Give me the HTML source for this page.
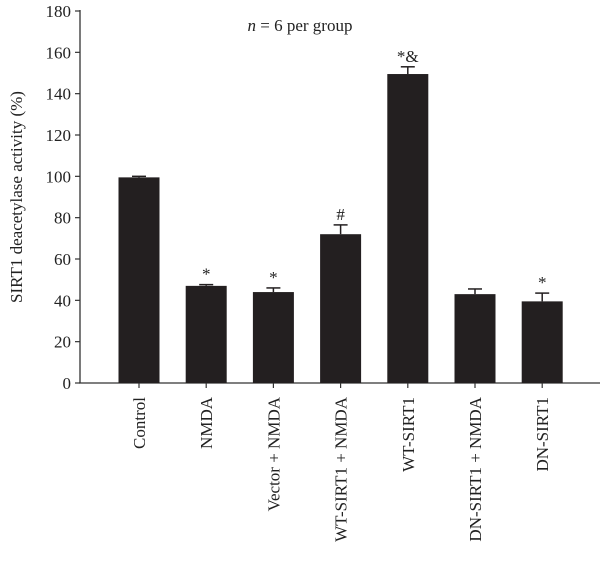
<!DOCTYPE html>
<html><head><meta charset="utf-8"><style>
html,body{margin:0;padding:0;background:#fff;}
svg{display:block;font-family:"Liberation Serif",serif;}
</style></head><body>
<svg id="chart" width="600" height="575" viewBox="0 0 600 575" xmlns="http://www.w3.org/2000/svg"></svg>
<script>
const categories=["Control","NMDA","Vector + NMDA","WT-SIRT1 + NMDA","WT-SIRT1","DN-SIRT1 + NMDA","DN-SIRT1"];
const values=[99.5,47,44,72,149.5,43,39.5];
const errors=[0.5,0.6,2,4.5,3.5,2.5,4];
const marks=["","*","*","#","*&","","*"];
const yTicks=[0,20,40,60,80,100,120,140,160,180];

const NS="http://www.w3.org/2000/svg";
const svg=document.getElementById('chart');
const x0=80,y0=383,yTop=11,yMax=180;
const y=v=>y0-(v/yMax)*(y0-yTop);
const xc=i=>139+i*67.2;
const bw=41;
function mk(t,a){const e=document.createElementNS(NS,t);for(const k in a)e.setAttribute(k,a[k]);svg.appendChild(e);return e;}

let e=mk('line',{x1:x0,y1:yTop-1,x2:x0,y2:y0,stroke:'#333','stroke-width':1.3});


e=mk('line',{x1:x0-1,y1:y0,x2:600,y2:y0,stroke:'#333','stroke-width':1.3});



yTicks.forEach(t=>{
  const l=mk('line',{x1:x0-5,y1:y(t),x2:x0,y2:y(t),stroke:'#333','stroke-width':1.2});
  
  
  const tx=mk('text',{x:x0-9,y:y(t)+6,'text-anchor':'end','font-size':17,fill:'#222'});
  tx.textContent=t;
  
  
});

const yt=mk('text',{x:0,y:0,transform:'translate(22,197) rotate(-90)','text-anchor':'middle','font-size':17,fill:'#222'});
yt.textContent='SIRT1 deacetylase activity (%)';



const n=mk('text',{x:300,y:31,'text-anchor':'middle','font-size':17,fill:'#222'});
n.innerHTML='<tspan font-style="italic">n</tspan> = 6 per group';



categories.forEach((c,i)=>{
  const cx=xc(i),v=values[i],er=errors[i];
  const b=mk('rect',{x:cx-bw/2,y:y(v),width:bw,height:y0-y(v),fill:'#231f20'});
  
  
  const g1=mk('line',{x1:cx,y1:y(v),x2:cx,y2:y(v+er),stroke:'#231f20','stroke-width':1.5});
  
  
  const g2=mk('line',{x1:cx-7,y1:y(v+er),x2:cx+7,y2:y(v+er),stroke:'#231f20','stroke-width':1.5});
  
  
  if(marks[i]){
    const m=mk('text',{x:cx,y:y(v+er)-5,'text-anchor':'middle','font-size':17,fill:'#222'});
    m.textContent=marks[i];
    
    
  }
  const tk=mk('line',{x1:cx,y1:y0,x2:cx,y2:y0+5,stroke:'#333','stroke-width':1.2});
  
  
  const lb=mk('text',{x:0,y:0,transform:`translate(${cx+6},397) rotate(-90)`,'text-anchor':'end','font-size':17,fill:'#222'});
  lb.textContent=c;
  
  
});
</script>
</body></html>
